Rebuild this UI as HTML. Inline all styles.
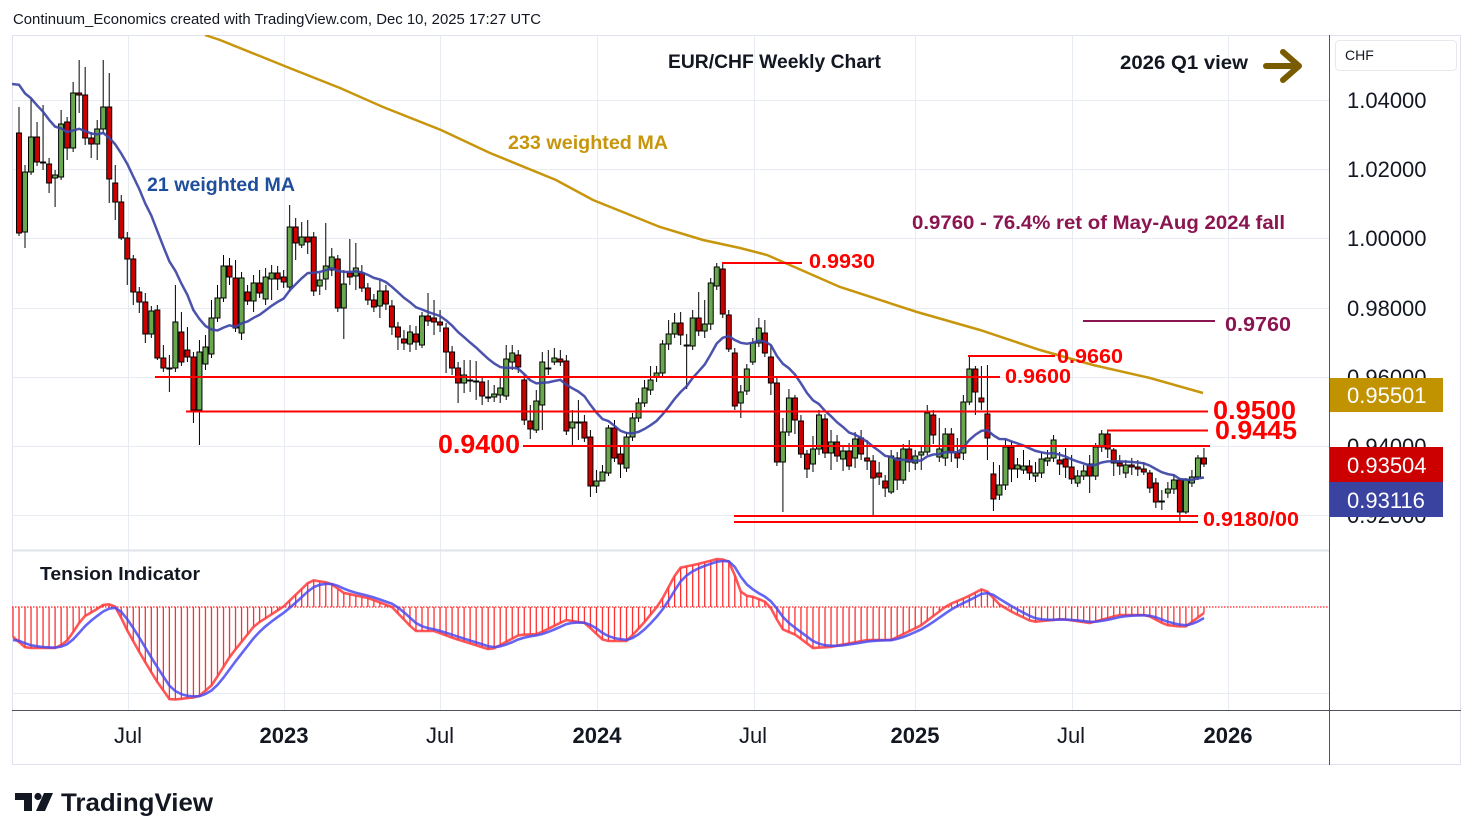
<!DOCTYPE html>
<html><head><meta charset="utf-8">
<style>
html,body{margin:0;padding:0;background:#fff;}
svg{display:block;}
text{font-family:"Liberation Sans",sans-serif;}
</style></head><body>
<svg id="s" width="1474" height="840" viewBox="0 0 1474 840" xmlns="http://www.w3.org/2000/svg">
<defs>
<clipPath id="cm"><rect x="12" y="35" width="1317" height="515"/></clipPath>
<clipPath id="ci"><rect x="12" y="551" width="1317" height="158"/></clipPath>
</defs>
<rect width="1474" height="840" fill="#fff"/>
<text x="13" y="24" font-size="14.5" fill="#131722" textLength="528" lengthAdjust="spacingAndGlyphs">Continuum_Economics created with TradingView.com, Dec 10, 2025 17:27 UTC</text>
<rect x="12.5" y="35.5" width="1448" height="729" fill="none" stroke="#e0e3eb"/>
<g stroke="#e6ecf2" stroke-width="1">
<line x1="12" x2="1329" y1="100.5" y2="100.5"/>
<line x1="12" x2="1329" y1="169.5" y2="169.5"/>
<line x1="12" x2="1329" y1="238.5" y2="238.5"/>
<line x1="12" x2="1329" y1="308.5" y2="308.5"/>
<line x1="12" x2="1329" y1="377.5" y2="377.5"/>
<line x1="12" x2="1329" y1="446.5" y2="446.5"/>
<line x1="12" x2="1329" y1="515.5" y2="515.5"/>
<line x1="12" x2="1329" y1="693.5" y2="693.5"/>
<line x1="128.5" x2="128.5" y1="35" y2="710"/>
<line x1="284.5" x2="284.5" y1="35" y2="710"/>
<line x1="440.5" x2="440.5" y1="35" y2="710"/>
<line x1="597.5" x2="597.5" y1="35" y2="710"/>
<line x1="754.5" x2="754.5" y1="35" y2="710"/>
<line x1="915.5" x2="915.5" y1="35" y2="710"/>
<line x1="1072.5" x2="1072.5" y1="35" y2="710"/>
<line x1="1228.5" x2="1228.5" y1="35" y2="710"/>
</g>
<line x1="12" x2="1329" y1="550.5" y2="550.5" stroke="#e0e3eb" stroke-width="2"/>
<g clip-path="url(#cm)">
<polyline fill="none" stroke="#c8960c" stroke-width="2.5" points="205,35 220,40 287,67 340,88 383,107 441,130 490,153 556,180 593,200 660,227 703,240 740,248 767,255 840,287 917,312 980,330 1040,350 1093,365 1150,378 1203,393"/>
<g id="candles"></g>
<polyline id="wma" fill="none" stroke="#3c44a6" stroke-width="2.5" stroke-opacity="0.92"/>
<g stroke="#ff0000" stroke-width="2">
<line x1="722" x2="802" y1="263" y2="263"/>
<line x1="968" x2="1055" y1="356" y2="356"/>
<line x1="155" x2="1000" y1="377" y2="377"/>
<line x1="186" x2="1208" y1="411.5" y2="411.5"/>
<line x1="1107" x2="1208" y1="430.5" y2="430.5"/>
<line x1="523" x2="1210" y1="446" y2="446"/>
<line x1="734" x2="1198" y1="516" y2="516"/>
<line x1="734" x2="1198" y1="522" y2="522"/>
</g>
<line x1="1083" x2="1215" y1="321" y2="321" stroke="#8a1550" stroke-width="2"/>
</g>
<!-- annotations -->
<text x="668" y="68" font-size="19" font-weight="bold" fill="#131722" textLength="213" lengthAdjust="spacingAndGlyphs">EUR/CHF Weekly Chart</text>
<text x="1120" y="69" font-size="19" font-weight="bold" fill="#131722" textLength="128" lengthAdjust="spacingAndGlyphs">2026 Q1 view</text>
<g stroke="#7a5c00" stroke-width="6" stroke-linecap="round" stroke-linejoin="round" fill="none">
<line x1="1266" y1="66" x2="1298" y2="66"/>
<polyline points="1283,52 1299,66 1283,80"/>
</g>
<text x="508" y="149" font-size="19.5" font-weight="bold" fill="#c8960c" textLength="160" lengthAdjust="spacingAndGlyphs">233 weighted MA</text>
<text x="147" y="191" font-size="19.5" font-weight="bold" fill="#1f4e9c" textLength="148" lengthAdjust="spacingAndGlyphs">21 weighted MA</text>
<text x="912" y="229" font-size="19.5" font-weight="bold" fill="#8a1550" textLength="373" lengthAdjust="spacingAndGlyphs">0.9760 - 76.4% ret of May-Aug 2024 fall</text>
<g font-weight="bold" fill="#ff0000">
<text x="809" y="268" font-size="20" textLength="66" lengthAdjust="spacingAndGlyphs">0.9930</text>
<text x="1057" y="363" font-size="20" textLength="66" lengthAdjust="spacingAndGlyphs">0.9660</text>
<text x="1005" y="383" font-size="20" textLength="66" lengthAdjust="spacingAndGlyphs">0.9600</text>
<text x="1213" y="419" font-size="26" textLength="83" lengthAdjust="spacingAndGlyphs">0.9500</text>
<text x="1215" y="439" font-size="26" textLength="82" lengthAdjust="spacingAndGlyphs">0.9445</text>
<text x="438" y="453" font-size="26" textLength="82" lengthAdjust="spacingAndGlyphs">0.9400</text>
<text x="1203" y="526" font-size="20" textLength="96" lengthAdjust="spacingAndGlyphs">0.9180/00</text>
</g>
<text x="1225" y="331" font-size="20" font-weight="bold" fill="#8a1550" textLength="66" lengthAdjust="spacingAndGlyphs">0.9760</text>
<!-- indicator -->
<text x="40" y="580" font-size="18" font-weight="bold" fill="#131722" textLength="160" lengthAdjust="spacingAndGlyphs">Tension Indicator</text>
<line x1="12" x2="1329" y1="607" y2="607" stroke="#ff2020" stroke-width="1.2" stroke-dasharray="1.5 1.5"/>
<g clip-path="url(#ci)">
<g id="hist" stroke="#ff3030" stroke-width="1.3"></g>
<polyline id="redl" fill="none" stroke="#ff3a3a" stroke-width="2.6" stroke-opacity="0.85"/>
<polyline id="bluel" fill="none" stroke="#4a4af2" stroke-width="2.6" stroke-opacity="0.85"/>
</g>
<!-- axes -->
<line x1="1329.5" x2="1329.5" y1="35" y2="765" stroke="#50535e" stroke-width="1"/>
<line x1="12" x2="1461" y1="710.5" y2="710.5" stroke="#50535e" stroke-width="1"/>
<rect x="1335.5" y="40.5" width="121" height="30" rx="4" fill="#fff" stroke="#e6e8ee"/>
<text x="1345" y="60" font-size="14" fill="#131722">CHF</text>
<g font-size="22" fill="#131722">
<text x="1347" y="108">1.04000</text>
<text x="1347" y="177">1.02000</text>
<text x="1347" y="246">1.00000</text>
<text x="1347" y="316">0.98000</text>
<text x="1347" y="385">0.96000</text>
<text x="1347" y="454">0.94000</text>
<text x="1347" y="523">0.92000</text>
</g>
<rect x="1330" y="378" width="113" height="34" fill="#c29300"/>
<text x="1347" y="403" font-size="22" fill="#fff">0.95501</text>
<rect x="1330" y="447" width="113" height="35" fill="#cc0000"/>
<text x="1347" y="473" font-size="22" fill="#fff">0.93504</text>
<rect x="1330" y="482" width="113" height="35" fill="#3a44a0"/>
<text x="1347" y="508" font-size="22" fill="#fff">0.93116</text>
<g font-size="22" fill="#131722" text-anchor="middle">
<text x="128" y="743">Jul</text>
<text x="284" y="743" font-weight="bold">2023</text>
<text x="440" y="743">Jul</text>
<text x="597" y="743" font-weight="bold">2024</text>
<text x="753" y="743">Jul</text>
<text x="915" y="743" font-weight="bold">2025</text>
<text x="1071" y="743">Jul</text>
<text x="1228" y="743" font-weight="bold">2026</text>
</g>
<!-- logo -->
<g fill="#131722">
<rect x="15" y="793" width="17" height="7"/>
<rect x="24" y="793" width="8" height="18"/>
<circle cx="38" cy="796.5" r="3.6"/>
<polygon points="44,793 53,793 45,811 36,811"/>
</g>
<text x="61" y="811" font-size="25" font-weight="bold" fill="#131722" textLength="152" lengthAdjust="spacingAndGlyphs">TradingView</text>
</svg>
<script>
(function(){
var C=[[133,233,107,236],[232,172,165,248],[172,137,99,175],[137,162,122,166],[162,162,105,170],[164,183,158,193],[178,175,170,207],[177,124,110,180],[122,148,117,160],[148,93,82,152],
[93,95,60,113],[95,138,67,145],[138,144,132,158],[144,129,120,160],[129,107,60,133],[107,179,73,203],[183,202,165,220],[202,238,195,240],[238,259,232,285],[259,292,255,305],
[292,302,287,313],[302,334,293,343],[334,311,306,338],[310,358,305,360],[358,368,345,372],[368,368,355,392],[368,322,285,372],[332,362,312,366],[350,357,327,362],[357,410,352,423],
[410,352,340,445],[364,347,335,370],[354,318,300,358],[318,298,285,322],[298,266,255,302],[266,277,258,285],[278,328,260,332],[333,278,272,340],[292,301,285,305],[301,283,275,312],
[283,293,270,298],[299,277,268,305],[279,273,265,300],[273,279,266,290],[277,282,270,288],[287,227,205,292],[227,243,218,260],[245,237,222,248],[237,242,220,254],[237,291,232,296],
[286,280,273,295],[279,266,223,290],[270,257,248,276],[259,308,255,312],[308,284,270,339],[273,277,239,285],[276,268,243,290],[273,288,265,292],[288,300,283,305],[300,307,294,312],
[306,291,280,318],[291,304,285,310],[306,327,300,335],[327,337,322,350],[339,343,330,350],[344,332,325,352],[334,342,326,350],[345,316,312,348],[316,321,293,326],[318,322,300,335],
[322,325,310,332],[328,352,323,373],[352,368,346,375],[368,383,362,403],[383,375,360,393],[380,380,360,392],[381,381,361,400],[382,396,376,405],[397,398,380,402],[397,394,385,402],
[395,388,378,403],[396,359,345,400],[362,353,345,370],[355,367,350,373],[380,420,375,425],[421,429,405,439],[430,401,390,433],[405,362,352,430],[368,368,350,375],[362,358,348,365],
[359,362,350,366],[361,431,355,435],[428,422,410,445],[422,422,400,440],[422,438,415,442],[437,486,430,497],[486,481,470,493],[481,472,465,480],[473,428,425,476],[428,458,420,462],
[454,464,445,478],[468,437,432,472],[437,418,413,441],[418,403,398,422],[403,388,380,407],[390,380,366,395],[377,373,366,382],[373,344,340,376],[344,334,320,350],[334,323,313,338],
[323,335,312,345],[345,345,334,389],[346,318,310,350],[318,331,292,336],[331,324,300,338],[324,283,278,330],[286,267,263,290],[269,314,262,318],[315,349,310,352],[353,406,348,410],
[403,392,385,418],[391,369,364,395],[362,343,338,365],[343,328,318,347],[333,353,320,357],[357,383,345,395],[383,462,378,466],[462,432,418,512],[432,398,389,436],[398,420,395,434],
[421,454,415,458],[454,469,450,478],[464,449,436,472],[449,415,410,455],[419,453,414,458],[453,442,430,470],[442,456,435,462],[459,451,445,471],[451,466,443,470],[458,439,432,468],
[438,454,430,460],[458,461,440,470],[461,478,455,515],[473,477,462,485],[481,488,475,497],[492,456,450,494],[458,480,452,490],[480,449,444,484],[449,462,440,472],[463,456,450,470],
[455,452,445,470],[452,413,405,455],[415,435,410,444],[457,449,418,462],[458,434,428,466],[434,453,428,462],[453,458,438,468],[453,402,395,460],[402,369,356,405],[369,392,366,415],
[398,402,366,410],[414,438,365,460],[474,499,462,511],[495,485,465,500],[485,447,440,490],[447,469,441,482],[469,465,458,478],[470,466,450,474],[466,473,460,480],[476,473,462,482],
[473,459,452,478],[461,458,450,466],[458,440,435,462],[460,464,452,475],[459,467,448,478],[467,479,455,484],[483,476,470,487],[476,471,465,480],[464,476,455,493],[476,447,443,480],
[447,434,430,452],[434,449,430,458],[450,463,448,476],[463,466,455,475],[473,465,460,478],[465,467,458,475],[467,469,460,476],[469,472,462,475],[473,488,470,493],[483,502,478,508],
[501,501,490,510],[493,489,482,498],[489,480,474,494],[480,512,478,523],[512,480,478,514],[483,477,470,487],[477,458,455,480],[458,464,448,467]];
var ns="http://www.w3.org/2000/svg";
function el(t,a,p){var e=document.createElementNS(ns,t);for(var k in a)e.setAttribute(k,a[k]);p.appendChild(e);return e;}
function X(i){return 19+i*6.015;}
var g=document.getElementById('candles');
for(var i=0;i<C.length;i++){
 var c=C[i],x=X(i),o=c[0],cl=c[1],h=c[2],l=c[3];
 var top=Math.min(o,cl),bot=Math.max(o,cl);
 el('line',{x1:x,x2:x,y1:Math.min(h,top),y2:Math.max(l,bot),stroke:'#000','stroke-width':1},g);
 var fill=cl<o?'#6aa84f':(cl>o?'#cc0000':'#000');
 el('rect',{x:x-2.5,y:top,width:5,height:Math.max(bot-top,1),fill:fill,stroke:'#000','stroke-width':1},g);
}
// WMA 21
var all=[];for(var k=0;k<20;k++)all.push(70);
for(i=0;i<C.length;i++)all.push(C[i][1]);
var pts=['12,84'];
for(i=0;i<C.length;i++){var s=0,w=0;for(k=0;k<21;k++){var wt=21-k;s+=all[i+20-k]*wt;w+=wt;}pts.push(X(i).toFixed(1)+','+(s/w).toFixed(1));}
document.getElementById('wma').setAttribute('points',pts.join(' '));
// indicator
var R=[[12,636],[26,648],[57,648],[68,640],[83,617],[94,611],[106,603],[116,607],[127,630],[141,655],[156,680],[170,700],[198,697],[212,685],[231,655],[255,625],[283,607],[311,580],[330,583],[344,593],[368,598],[392,607],[415,631],[434,631],[453,638],[491,650],[519,635],[538,634],[566,620],[585,623],[604,641],[627,641],[642,625],[660,603],[679,568],[698,564],[717,559],[728,560],[736,578],[742,595],[754,597],[768,603],[782,629],[796,635],[813,648],[830,647],[867,640],[891,640],[920,626],[948,605],[967,597],[984,588],[1000,605],[1014,613],[1033,622],[1062,619],[1090,623],[1119,615],[1147,615],[1166,625],[1185,627],[1204,613]];
function ip(P,x){if(x<=P[0][0])return P[0][1];for(var j=1;j<P.length;j++){if(x<=P[j][0]){var a=P[j-1],b=P[j];return a[1]+(b[1]-a[1])*(x-a[0])/(b[0]-a[0]);}}return P[P.length-1][1];}
var hg=document.getElementById('hist');
var rp=[],bp=[],xs=[13];
for(i=0;i<C.length;i++)xs.push(X(i));
var b=640;
for(i=0;i<xs.length;i++){
 var xx=xs[i],v=ip(R,xx);
 el('line',{x1:xx,x2:xx,y1:607,y2:v},hg);
 rp.push(xx.toFixed(1)+','+v.toFixed(1));
 b=(i==0)?640:b+0.4*(v-b);
 bp.push(xx.toFixed(1)+','+b.toFixed(1));
}
document.getElementById('redl').setAttribute('points',rp.join(' '));
document.getElementById('bluel').setAttribute('points',bp.join(' '));
})();
</script>
</body></html>
